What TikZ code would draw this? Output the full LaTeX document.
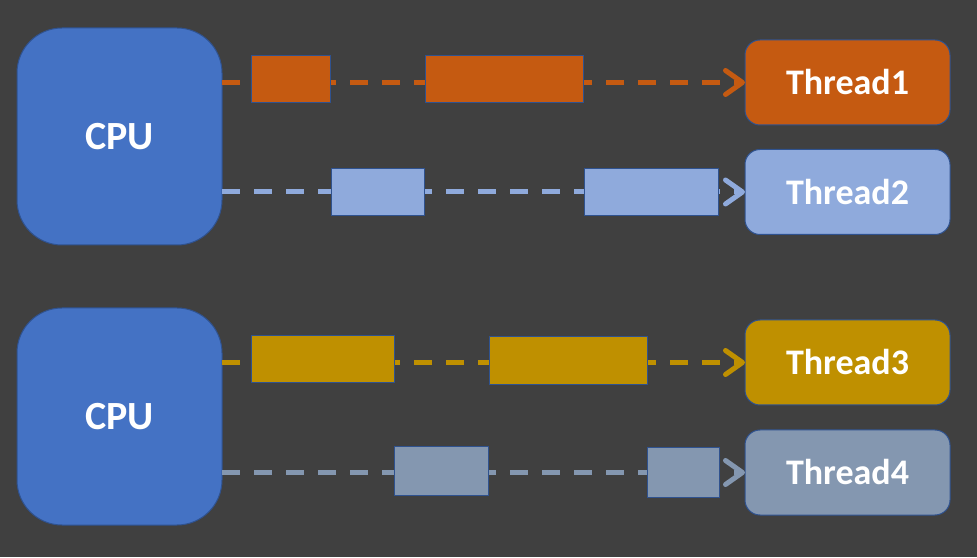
\documentclass[tikz,border=0pt]{standalone}
\usepackage{fontspec}
\setmainfont{Carlito}
\usetikzlibrary{arrows.meta}
\definecolor{bg}{HTML}{404040}
\definecolor{cpublue}{HTML}{4472C4}
\definecolor{edge}{HTML}{2F528F}
\definecolor{orangeT}{HTML}{C55A11}
\definecolor{lblueT}{HTML}{8FAADC}
\definecolor{goldT}{HTML}{BF9000}
\definecolor{slateT}{HTML}{8497B0}
\tikzset{
  cpubox/.style={draw=edge, line width=1pt, fill=cpublue, rounded corners=45pt,
    minimum width=205pt, minimum height=217pt, inner sep=0pt, outer sep=0pt,
    text=white, font=\fontsize{40}{44}\selectfont\bfseries},
  threadbox/.style={draw=edge, line width=1pt, fill=#1, rounded corners=15pt,
    minimum width=205pt, minimum height=85pt, inner sep=0pt, outer sep=0pt,
    text=white, font=\fontsize{36}{40}\selectfont\bfseries},
  segbox/.style={draw=edge, line width=1pt, fill=#1, inner sep=0pt, outer sep=0pt},
  flow/.style={draw=#1, line width=5pt, dash pattern=on 18pt off 14pt,
    -{Straight Barb[length=17pt,width=24pt,line cap=round,line join=round]}},
}
\begin{document}
\begin{tikzpicture}[x=1pt,y=1pt]
  \fill[bg] (0,0) rectangle (977,557);
  \useasboundingbox (0,0) rectangle (977,557);

  % processors
  \node[cpubox] (cpu1) at (119.5,420.5) {CPU};
  \node[cpubox] (cpu2) at (119.5,140.5) {CPU};

  % threads
  \node[threadbox=orangeT] (t1) at (847.5,474.5) {Thread1};
  \node[threadbox=lblueT]  (t2) at (847.5,365)   {Thread2};
  \node[threadbox=goldT]   (t3) at (847.5,194.5) {Thread3};
  \node[threadbox=slateT]  (t4) at (847.5,84.5)  {Thread4};

  % dispatch lines
  \draw[flow=orangeT] (cpu1.east |- t1.west) -- (t1.west);
  \draw[flow=lblueT]  (cpu1.east |- t2.west) -- (t2.west);
  \draw[flow=goldT]   (cpu2.east |- t3.west) -- (t3.west);
  \draw[flow=slateT]  (cpu2.east |- t4.west) -- (t4.west);

  % time slices on each line
  \node[segbox=orangeT, minimum width=79pt,  minimum height=47pt] (s1a) at (290.5,477.5) {};
  \node[segbox=orangeT, minimum width=158pt, minimum height=47pt] (s1b) at (504,477.5) {};
  \node[segbox=lblueT,  minimum width=93pt,  minimum height=47pt] (s2a) at (377.5,364.5) {};
  \node[segbox=lblueT,  minimum width=134pt, minimum height=47pt] (s2b) at (651,364.5) {};
  \node[segbox=goldT,   minimum width=143pt, minimum height=47pt] (s3a) at (322.5,197.5) {};
  \node[segbox=goldT,   minimum width=158pt, minimum height=48pt] (s3b) at (568,196) {};
  \node[segbox=slateT,  minimum width=94pt,  minimum height=48pt] (s4a) at (441.5,86) {};
  \node[segbox=slateT,  minimum width=72pt,  minimum height=49pt] (s4b) at (683,84.5) {};
\end{tikzpicture}
\end{document}
